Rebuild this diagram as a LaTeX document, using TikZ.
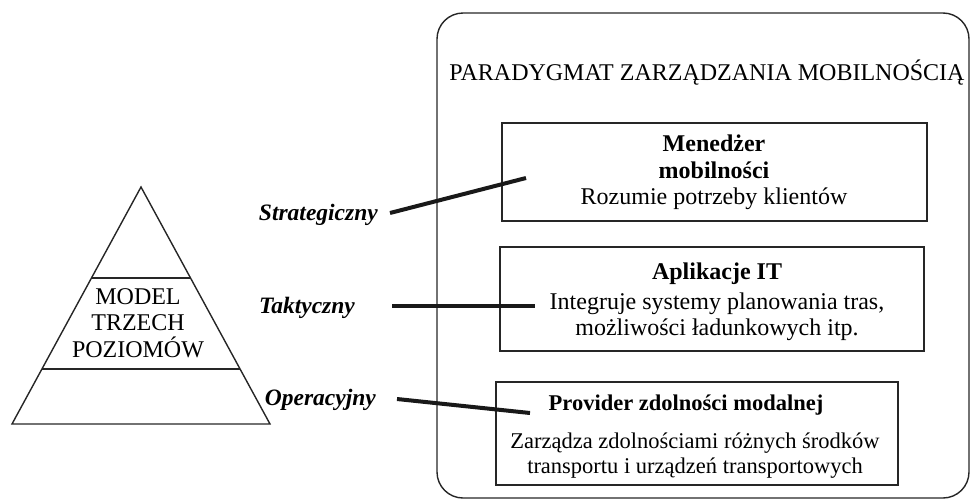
\documentclass[tikz,border=0pt]{standalone}
\usepackage{fontspec}
\setmainfont{Liberation Serif}
\begin{document}
\begin{tikzpicture}[x=1pt,y=-1pt,
  thin line/.style={draw=black!85, line width=1.4pt},
  conn/.style={draw=black!90, line width=4pt},
  boxnode/.style={thin line, inner sep=0pt, fill=none},
  txt/.style={inner sep=0pt, font=\fontsize{24}{28}\selectfont},
  hdr/.style={inner sep=0pt, font=\fontsize{24}{28}\selectfont\bfseries},
  smalltxt/.style={inner sep=0pt, font=\fontsize{22.5}{26}\selectfont},
  smallhdr/.style={inner sep=0pt, font=\fontsize{22.5}{26}\selectfont\bfseries},
  lvl/.style={inner sep=0pt, anchor=east, font=\fontsize{23.5}{28}\selectfont\bfseries\itshape},
]
\useasboundingbox (0,0) rectangle (972,501);

% big rounded frame
\draw[thin line, rounded corners=26] (437,13) rectangle (969,498);
\node[txt] (title) at (707,73) {PARADYGMAT ZARZĄDZANIA MOBILNOŚCIĄ};

% pyramid
\draw[thin line, line join=miter] (12,424) -- (141,187) -- (270,424) -- cycle;
\draw[thin line] (91.5,278) -- (190.5,278);
\draw[thin line] (42,369) -- (240,369);
\node[txt, align=center, font=\fontsize{24}{26.5}\selectfont] (model) at (138,323)
  {MODEL\\TRZECH\\POZIOMÓW};

% level labels
\node[lvl] (strat) at (378,215) {Strategiczny};
\node[lvl] (takt) at (355,308) {Taktyczny};
\node[lvl] (oper) at (376,400) {Operacyjny};

% boxes
\node[boxnode, minimum width=425, minimum height=98] (b1) at (714.5,172) {};
\node[boxnode, minimum width=424, minimum height=104] (b2) at (712,299) {};
\node[boxnode, minimum width=402, minimum height=103] (b3) at (697,433.5) {};

\node[hdr] (b1h1) at (714,143) {Menedżer};
\node[hdr] (b1h2) at (714,170) {mobilności};
\node[txt] (b1t) at (714,199) {Rozumie potrzeby klientów};

\node[hdr] (b2h) at (717,274) {Aplikacje IT};
\node[txt] (b2t1) at (717,304) {Integruje systemy planowania tras,};
\node[txt] (b2t2) at (717,330) {możliwości ładunkowych itp.};

\node[smallhdr] (b3h) at (686,405) {Provider zdolności modalnej};
\node[smalltxt] (b3t1) at (695,443) {Zarządza zdolnościami różnych środków};
\node[smalltxt] (b3t2) at (695,468) {transportu i urządzeń transportowych};

% connectors
\coordinate (s1) at (526,178);
\coordinate (t1) at (535,306);
\coordinate (o1) at (530,413);
\draw[conn] ([xshift=12,yshift=2]strat.east) -- (s1);
\draw[conn] ([xshift=37,yshift=2]takt.east) -- (t1);
\draw[conn] ([xshift=21,yshift=1]oper.east) -- (o1);
\end{tikzpicture}
\end{document}
